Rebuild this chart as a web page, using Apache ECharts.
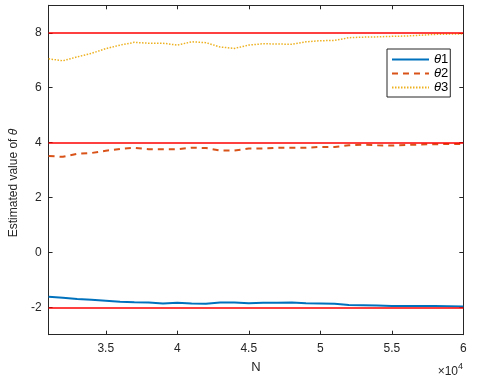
<!DOCTYPE html>
<html>
<head>
<meta charset="utf-8">
<script src="https://cdn.jsdelivr.net/npm/echarts@6/dist/echarts.min.js"></script>
<style>
  html, body { margin: 0; padding: 0; background: #fff; }
  #chart { width: 478px; height: 383px; }
</style>
</head>
<body>
<div id="chart"></div>
<script>
// sample sizes N
var nValues = [31000, 32000, 33000, 34000, 35000, 36000, 37000, 38000, 39000, 40000,
  41000, 42000, 43000, 44000, 45000, 46000, 47000, 48000, 49000, 50000,
  51000, 52000, 53000, 54000, 55000, 56000, 57000, 58000, 59000, 60000];

// estimated parameters
var theta1 = [-1.62, -1.65, -1.70, -1.73, -1.76, -1.80, -1.82, -1.83, -1.86, -1.84,
  -1.86, -1.87, -1.83, -1.83, -1.85, -1.84, -1.84, -1.83, -1.85, -1.86,
  -1.87, -1.92, -1.93, -1.94, -1.95, -1.95, -1.95, -1.95, -1.96, -1.97];
var theta2 = [3.51, 3.48, 3.59, 3.62, 3.70, 3.77, 3.81, 3.76, 3.76, 3.76,
  3.81, 3.80, 3.71, 3.71, 3.78, 3.78, 3.81, 3.81, 3.81, 3.84,
  3.84, 3.90, 3.92, 3.90, 3.89, 3.91, 3.93, 3.94, 3.95, 3.95];
var theta3 = [7.05, 6.98, 7.12, 7.25, 7.42, 7.55, 7.65, 7.62, 7.62, 7.55,
  7.67, 7.64, 7.48, 7.43, 7.55, 7.60, 7.59, 7.58, 7.67, 7.71,
  7.72, 7.82, 7.84, 7.85, 7.87, 7.88, 7.91, 7.94, 7.95, 7.96];

// true values (red lines)
var trueTheta = [-2, 4, 8];

var seriesNames = ['θ1', 'θ2', 'θ3'];
var xTicks = [35000, 40000, 45000, 50000, 55000, 60000];
var yTicks = [-2, 0, 2, 4, 6, 8];

var axisColor = '#262626';
var fontFam = '"Liberation Sans", Arial, Helvetica, sans-serif';

function pairs(ys) {
  return nValues.map(function (n, i) { return [n, ys[i]]; });
}

function refLine(v) {
  return {
    silent: true,
    symbol: 'none',
    label: { show: false },
    lineStyle: { color: '#ff0000', width: 1.5, type: 'solid' },
    emphasis: { disabled: true },
    data: [{ yAxis: v }]
  };
}

var myChart = echarts.init(document.getElementById('chart'), null, { renderer: 'canvas' });

var option = {
  animation: false,
  backgroundColor: '#fff',
  textStyle: { fontFamily: fontFam },
  grid: { left: 45.7, right: 14.7, top: 5.3, bottom: 48.3, containLabel: false },
  legend: {
    orient: 'vertical',
    left: 387,
    top: 49,
    padding: [4, 2, 3, 4],
    itemGap: 1,
    itemWidth: 37,
    itemHeight: 14,
    borderColor: axisColor,
    borderWidth: 1,
    backgroundColor: '#fff',
    borderRadius: 0,
    itemStyle: { opacity: 0 },
    data: seriesNames,
    formatter: function (name) { return '{i|θ}{n|' + name.slice(1) + '}'; },
    textStyle: {
      color: '#000',
      fontSize: 13,
      rich: {
        i: { fontStyle: 'italic', fontSize: 13, fontFamily: fontFam, color: '#000' },
        n: { fontSize: 13, fontFamily: fontFam, color: '#000' }
      }
    }
  },
  xAxis: [{
    type: 'value',
    min: 31000,
    max: 60000,
    position: 'bottom',
    name: 'N',
    nameLocation: 'middle',
    nameGap: 26,
    nameTextStyle: { color: axisColor, fontSize: 13, fontFamily: fontFam },
    axisLine: { show: true, onZero: false, lineStyle: { color: axisColor, width: 1 } },
    axisTick: { show: true, inside: true, length: 4, customValues: xTicks, lineStyle: { color: axisColor } },
    axisLabel: {
      color: axisColor, fontSize: 12, margin: 8, customValues: xTicks,
      formatter: function (v) { return String(v / 10000); }
    },
    splitLine: { show: false }
  }, {
    type: 'value',
    min: 31000,
    max: 60000,
    position: 'top',
    axisLine: { show: true, onZero: false, lineStyle: { color: axisColor, width: 1 } },
    axisTick: { show: true, inside: true, length: 4, customValues: xTicks, lineStyle: { color: axisColor } },
    axisLabel: { show: false },
    splitLine: { show: false }
  }],
  yAxis: [{
    type: 'value',
    min: -3,
    max: 9,
    interval: 1,
    position: 'left',
    name: '{t|Estimated value of }{i|θ}',
    nameLocation: 'middle',
    nameGap: 22,
    nameTextStyle: {
      color: axisColor,
      padding: [0, 26, 0, 0],
      rich: {
        t: { fontSize: 12, fontFamily: fontFam, color: axisColor },
        i: { fontSize: 12, fontStyle: 'italic', fontFamily: fontFam, color: axisColor }
      }
    },
    axisLine: { show: true, onZero: false, lineStyle: { color: axisColor, width: 1 } },
    axisTick: { show: true, inside: true, length: 4, customValues: yTicks, lineStyle: { color: axisColor } },
    axisLabel: { color: axisColor, fontSize: 12, margin: 7, customValues: yTicks },
    splitLine: { show: false }
  }, {
    type: 'value',
    min: -3,
    max: 9,
    interval: 1,
    position: 'right',
    axisLine: { show: true, onZero: false, lineStyle: { color: axisColor, width: 1 } },
    axisTick: { show: true, inside: true, length: 4, customValues: yTicks, lineStyle: { color: axisColor } },
    axisLabel: { show: false },
    splitLine: { show: false }
  }],
  graphic: [{
    type: 'text',
    right: 15,
    top: 362,
    style: {
      text: '{a|×10}{s|4}',
      rich: {
        a: { fontSize: 12, fontFamily: fontFam, fill: axisColor, padding: [6, 0, 0, 0] },
        s: { fontSize: 9, fontFamily: fontFam, fill: axisColor, padding: [0, 0, 4, 0] }
      }
    }
  }],
  series: [{
    name: seriesNames[0],
    type: 'line',
    data: pairs(theta1),
    symbol: 'none',
    smooth: false,
    color: '#0072bd',
    lineStyle: { color: '#0072bd', width: 2, type: 'solid' },
    markLine: refLine(trueTheta[0]),
    z: 3
  }, {
    name: seriesNames[1],
    type: 'line',
    data: pairs(theta2),
    symbol: 'none',
    smooth: false,
    color: '#d95319',
    lineStyle: { color: '#d95319', width: 2, type: [6, 5] },
    markLine: refLine(trueTheta[1]),
    z: 3
  }, {
    name: seriesNames[2],
    type: 'line',
    data: pairs(theta3),
    symbol: 'none',
    smooth: false,
    color: '#edb120',
    lineStyle: { color: '#edb120', width: 1.5, type: [1.5, 1.5] },
    markLine: refLine(trueTheta[2]),
    z: 3
  }]
};

option && myChart.setOption(option);
</script>
</body>
</html>
